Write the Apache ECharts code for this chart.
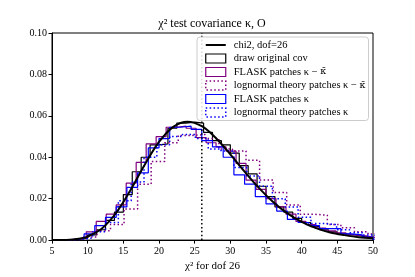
<!DOCTYPE html>
<html>
<head>
<meta charset="utf-8">
<script src="https://cdn.jsdelivr.net/npm/echarts@6/dist/echarts.min.js"></script>
<style>html,body{margin:0;padding:0;background:#fff}#c{width:415px;height:277px}</style>
</head>
<body>
<div id="c"></div>
<script>
// ---- data ----
const titleText = 'χ² test covariance κ, O';
const xLabel = 'χ² for dof 26';
const xTicks = [5, 10, 15, 20, 25, 30, 35, 40, 45, 50];
const yTicks = [0.00, 0.02, 0.04, 0.06, 0.08, 0.10];
const dofLine = 26;

const chi2X = [5, 7, 9, 10, 12, 14, 16, 18, 20, 22, 24, 26, 28, 30, 32, 34, 36, 38, 40, 42, 44, 46, 48, 50];
const chi2Y = [0.00001, 0.0001, 0.0008, 0.0017, 0.0056, 0.0132, 0.0241, 0.0364, 0.0474, 0.0547, 0.0572, 0.0550, 0.0492, 0.0414, 0.0331, 0.0252, 0.0184, 0.0129, 0.0088, 0.0058, 0.0037, 0.0024, 0.0014, 0.0009];

// histogram: first bin edge, bin width, heights
const origStart = 6.25, origWidth = 1.25;
const origVals = [0.0000, 0.0005, 0.001, 0.0025, 0.005, 0.0095, 0.0135, 0.022, 0.033, 0.040, 0.046, 0.0465, 0.054, 0.0565, 0.057, 0.0565, 0.052, 0.048, 0.046, 0.042, 0.036, 0.032, 0.026, 0.021, 0.016, 0.0135, 0.0105, 0.0085, 0.0065, 0.005, 0.004, 0.003, 0.0025, 0.0018, 0.0012];

const flaskDStart = 7.0, flaskDWidth = 1.4;
const flaskDVals = [0.0005, 0.0012, 0.004, 0.009, 0.0125, 0.017, 0.0275, 0.0375, 0.0465, 0.050, 0.0545, 0.055, 0.054, 0.0495, 0.047, 0.045, 0.043, 0.037, 0.029, 0.0245, 0.020, 0.016, 0.0125, 0.009, 0.0075, 0.0058, 0.0045, 0.0035, 0.0025, 0.002, 0.0012];

const lognDStart = 7.5, lognDWidth = 1.9;
const lognDVals = [0.0004, 0.0015, 0.0045, 0.0075, 0.015, 0.027, 0.038, 0.047, 0.0505, 0.051, 0.049, 0.044, 0.043, 0.0385, 0.029, 0.023, 0.017, 0.0125, 0.012, 0.0075, 0.006, 0.004, 0.003];

const flaskKStart = 6.5, flaskKWidth = 1.5;
const flaskKVals = [0.0003, 0.001, 0.003, 0.007, 0.011, 0.016, 0.0255, 0.0325, 0.0445, 0.049, 0.0545, 0.055, 0.0535, 0.048, 0.045, 0.040, 0.0315, 0.027, 0.021, 0.0175, 0.014, 0.010, 0.0085, 0.007, 0.0055, 0.0055, 0.003, 0.0025, 0.0015];

const lognKStart = 7.1, lognKWidth = 1.8;
const lognKVals = [0.0003, 0.001, 0.004, 0.0085, 0.019, 0.028, 0.040, 0.046, 0.050, 0.051, 0.049, 0.044, 0.043, 0.035, 0.031, 0.026, 0.020, 0.016, 0.011, 0.008, 0.0075, 0.005, 0.0035, 0.0025];

const names = ['chi2, dof=26', 'draw original cov', 'FLASK patches κ − κ̄', 'lognormal theory patches κ − κ̄', 'FLASK patches κ', 'lognormal theory patches κ'];

// ---- build ----
function stepOutline(start, width, vals) {
  const pts = [[start, 0]];
  vals.forEach((v, i) => {
    const a = start + i * width, b = start + (i + 1) * width;
    pts.push([a, v], [b, v]);
  });
  pts.push([start + vals.length * width, 0]);
  return pts;
}
const FONT = '"Liberation Serif", "DejaVu Serif", serif';
const PURPLE = '#800080', BLUE = '#0000ff';
const DOT = [1.5, 2.4];

function histSeries(name, pts, color, dotted) {
  return {
    name: name, type: 'line', data: pts, symbol: 'none', z: 2,
    lineStyle: { color: color, width: dotted ? 1.5 : 1.2, type: dotted ? DOT : 'solid' },
    itemStyle: { color: color }
  };
}
function legendRect(name, color, dotted) {
  return { name: name, icon: 'rect',
    itemStyle: { color: 'rgba(0,0,0,0)', borderColor: color, borderWidth: dotted ? 1.5 : 1.2, borderType: dotted ? DOT : 'solid' } };
}

const chart = echarts.init(document.getElementById('c'), null, { renderer: 'canvas' });
chart.setOption({
  animation: false,
  backgroundColor: '#fff',
  title: { text: titleText, left: 212, top: 18, textAlign: 'center', padding: 0,
    textStyle: { fontFamily: FONT, fontSize: 12, fontWeight: 'normal', color: '#000' } },
  grid: { left: 52, right: 42, top: 33, bottom: 35, show: true, borderColor: '#000', borderWidth: 1, backgroundColor: 'transparent' },
  legend: {
    orient: 'vertical', left: 197, top: 37,
    padding: [2, 3, 2, 8], itemGap: 1.5, itemWidth: 20, itemHeight: 9, symbolKeepAspect: true,
    backgroundColor: 'rgba(255,255,255,0.85)', borderColor: '#cccccc', borderWidth: 1, borderRadius: 3,
    textStyle: { fontFamily: FONT, fontSize: 10.5, color: '#000', lineHeight: 12, padding: [0, 0, 0, 3],
      rich: { kb: { fontFamily: '"DejaVu Serif", serif', fontSize: 9.5, color: '#000', lineHeight: 12 } } },
    formatter: function (n) { return n.replace('κ − κ̄', 'κ − {kb|κ̄}'); },
    data: [
      { name: names[0], icon: 'path://M0,0H20V2H0Z', itemStyle: { color: '#000' } },
      legendRect(names[1], '#000', false),
      legendRect(names[2], PURPLE, false),
      legendRect(names[3], PURPLE, true),
      legendRect(names[4], BLUE, false),
      legendRect(names[5], BLUE, true)
    ]
  },
  xAxis: {
    type: 'value', min: xTicks[0], max: xTicks[xTicks.length - 1], interval: 5,
    name: xLabel, nameLocation: 'middle', nameGap: 17,
    nameTextStyle: { fontFamily: FONT, fontSize: 11, color: '#000' },
    axisLine: { show: true, onZero: false, lineStyle: { color: '#000', width: 1 } },
    axisTick: { show: true, inside: false, length: 3.5, lineStyle: { color: '#000' } },
    axisLabel: { fontFamily: FONT, fontSize: 10, color: '#000', margin: 6 },
    splitLine: { show: false }
  },
  yAxis: {
    type: 'value', min: yTicks[0], max: yTicks[yTicks.length - 1], interval: 0.02,
    axisLine: { show: true, onZero: false, lineStyle: { color: '#000', width: 1 } },
    axisTick: { show: true, inside: false, length: 3.5, lineStyle: { color: '#000' } },
    axisLabel: { fontFamily: FONT, fontSize: 10, color: '#000', margin: 5, formatter: v => v.toFixed(2) },
    splitLine: { show: false }
  },
  series: [
    histSeries(names[1], stepOutline(origStart, origWidth, origVals), '#000', false),
    histSeries(names[2], stepOutline(flaskDStart, flaskDWidth, flaskDVals), PURPLE, false),
    histSeries(names[3], stepOutline(lognDStart, lognDWidth, lognDVals), PURPLE, true),
    histSeries(names[4], stepOutline(flaskKStart, flaskKWidth, flaskKVals), BLUE, false),
    histSeries(names[5], stepOutline(lognKStart, lognKWidth, lognKVals), BLUE, true),
    {
      name: names[0], type: 'line', smooth: 0.35, symbol: 'none', z: 4,
      data: chi2X.map((x, i) => [x, chi2Y[i]]),
      lineStyle: { color: '#000', width: 2 }, itemStyle: { color: '#000' }
    },
    {
      name: 'dof', type: 'line', symbol: 'none', z: 3,
      data: [[dofLine, yTicks[0]], [dofLine, yTicks[yTicks.length - 1]]],
      lineStyle: { color: '#000', width: 1.5, type: DOT }
    }
  ]
});
</script>
</body>
</html>
